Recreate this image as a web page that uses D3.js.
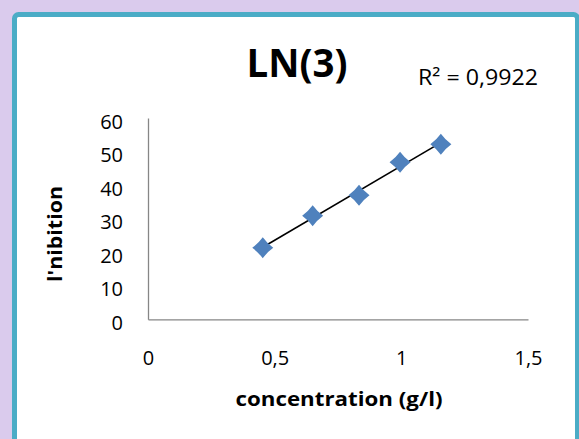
<!DOCTYPE html>
<html>
<head>
<meta charset="utf-8">
<script src="https://cdn.jsdelivr.net/npm/d3@7"></script>
<style>
  html, body { margin: 0; padding: 0; background: #dacbed; }
  svg { display: block; }
  text { font-family: "Open Sans", "Liberation Sans", sans-serif; fill: #000; }
</style>
</head>
<body>
<svg id="chart" width="579" height="439"></svg>
<script>
// Inhibition measured at each concentration
const concentration = [0.453, 0.65, 0.833, 0.995, 1.156];
const inhibition = [21.3, 30.9, 37.0, 46.8, 52.2];
const xTicks = [0, 0.5, 1, 1.5];
const yTicks = [0, 10, 20, 30, 40, 50, 60];
const title = "LN(3)";
const xTitle = "concentration  (g/l)";
const yTitle = "l'nibition";
const rSquared = 0.9922;

const svg = d3.select("#chart");

// Chart frame
svg.append("rect")
  .attr("x", 14.5).attr("y", 14.5)
  .attr("width", 563).attr("height", 440)
  .attr("rx", 4)
  .attr("fill", "#fff")
  .attr("stroke", "#4bacc6")
  .attr("stroke-width", 5);

const x = d3.scaleLinear().domain([0, 1.5]).range([148, 528]);
const y = d3.scaleLinear().domain([0, 60]).range([319.3, 118]);
const fmt = d => String(d).replace(".", ",");

// Axes (lines only, no tick marks)
const xAxis = svg.append("g").attr("transform", `translate(0,${y(0)})`)
  .call(d3.axisBottom(x).tickValues(xTicks).tickSize(0).tickPadding(0).tickFormat(fmt));
xAxis.select(".domain").attr("stroke", "#868686").attr("stroke-width", 1.3);
xAxis.selectAll(".tick text")
  .attr("y", 46).attr("dy", 0)
  .style("font-size", "20px").style("font-family", "'Open Sans', sans-serif").attr("fill", "#000");

const yAxis = svg.append("g").attr("transform", `translate(${x(0)},0)`)
  .call(d3.axisLeft(y).tickValues(yTicks).tickSize(0).tickPadding(0).tickFormat(fmt));
yAxis.select(".domain").attr("stroke", "#868686").attr("stroke-width", 1.3);
yAxis.selectAll(".tick text")
  .attr("x", -25).attr("dy", 10)
  .style("font-size", "20px").style("font-family", "'Open Sans', sans-serif").attr("fill", "#000");

// Linear trend line (least squares) across the data range
const n = concentration.length;
const mx = d3.mean(concentration), my = d3.mean(inhibition);
let sxy = 0, sxx = 0;
for (let i = 0; i < n; i++) {
  const dx = concentration[i] - mx, dy = inhibition[i] - my;
  sxy += dx * dy; sxx += dx * dx;
}
const slope = sxy / sxx, intercept = my - slope * mx;
const xMin = d3.min(concentration), xMax = d3.max(concentration);

svg.append("line")
  .attr("x1", x(xMin)).attr("y1", y(intercept + slope * xMin))
  .attr("x2", x(xMax)).attr("y2", y(intercept + slope * xMax))
  .attr("stroke", "#000").attr("stroke-width", 1.6);

// Diamond markers with slightly pinched sides
const diamond = {
  draw(ctx, size) {
    const r = Math.sqrt(size) / 2;
    const c = r * 0.42;
    ctx.moveTo(0, -r);
    ctx.quadraticCurveTo(c, -c, r, 0);
    ctx.quadraticCurveTo(c, c, 0, r);
    ctx.quadraticCurveTo(-c, c, -r, 0);
    ctx.quadraticCurveTo(-c, -c, 0, -r);
    ctx.closePath();
  }
};
svg.append("g").selectAll("path")
  .data(concentration.map((c, i) => [c, inhibition[i]]))
  .join("path")
  .attr("transform", d => `translate(${x(d[0])},${y(d[1])})`)
  .attr("d", d3.symbol().type(diamond).size(21 * 21))
  .attr("fill", "#4f81bd");

// Titles
svg.append("text")
  .attr("x", 297).attr("y", 77)
  .attr("text-anchor", "middle")
  .attr("textLength", 101).attr("lengthAdjust", "spacingAndGlyphs")
  .style("font-size", "39px").style("font-weight", "bold")
  .text(title);

svg.append("text")
  .attr("x", 418).attr("y", 84.5)
  .attr("textLength", 120).attr("lengthAdjust", "spacingAndGlyphs")
  .style("font-size", "22px")
  .text(`R² = ${rSquared.toFixed(4).replace(".", ",")}`);

svg.append("text")
  .attr("x", 339).attr("y", 406)
  .attr("text-anchor", "middle")
  .attr("textLength", 207).attr("lengthAdjust", "spacingAndGlyphs")
  .style("font-size", "19px").style("font-weight", "bold")
  .text(xTitle);

svg.append("text")
  .attr("transform", "translate(62,234) rotate(-90)")
  .attr("text-anchor", "middle")
  .attr("textLength", 96).attr("lengthAdjust", "spacingAndGlyphs")
  .style("font-size", "19px").style("font-weight", "bold")
  .text(yTitle);
</script>
</body>
</html>
